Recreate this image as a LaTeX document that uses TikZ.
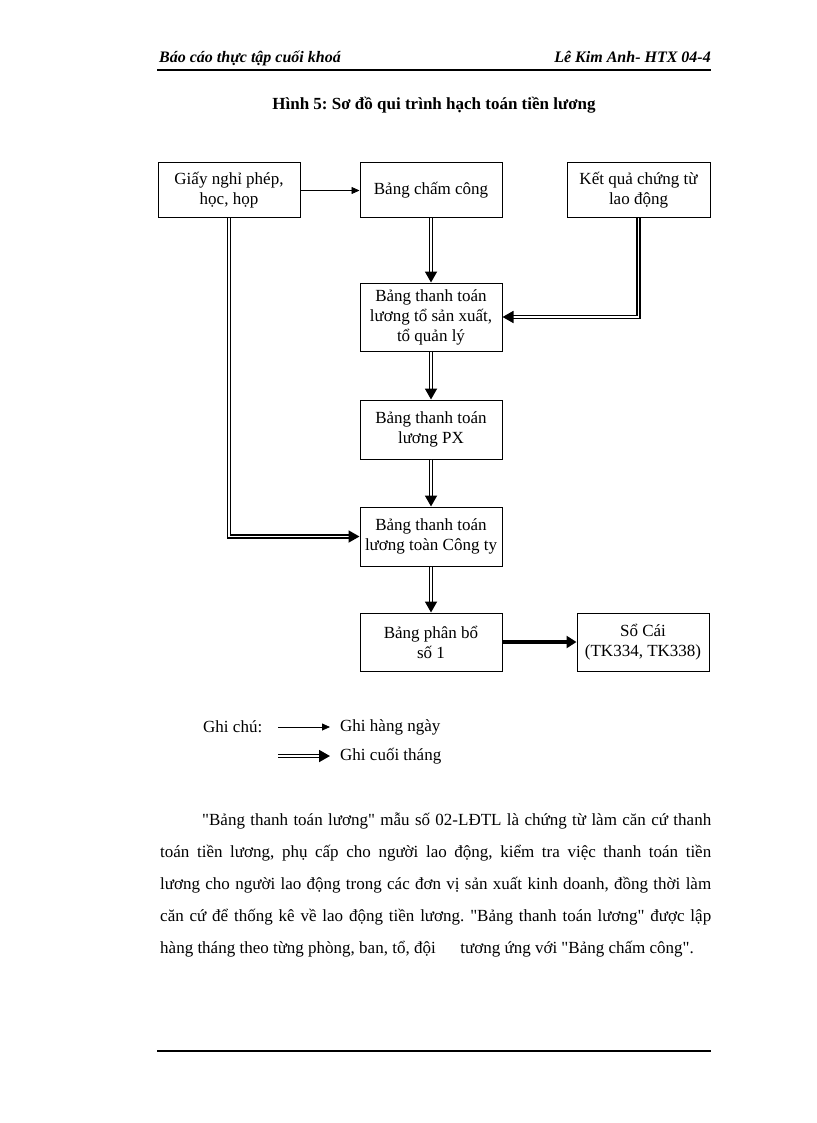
\documentclass[tikz,border=0pt]{standalone}
\usepackage{fontspec}
\setmainfont{Liberation Serif}[Ligatures=TeXOff]
\usetikzlibrary{arrows.meta}
\frenchspacing

\begin{document}
\begin{tikzpicture}[x=1pt,y=-1pt,
        box/.style={draw=black, line width=1pt, minimum width=142pt, minimum height=55pt, align=center, inner sep=2pt, font=\fontsize{17}{20}\selectfont},
        daily/.style={-{Triangle[length=8pt,width=7pt]}, line width=0.8pt},
        monthly/.style={double=white, double distance=1.2pt, line width=1.8pt, -{Triangle[length=11pt,width=12pt]}},
        heavy/.style={line width=4pt, -{Triangle[length=10pt,width=12pt]}},
        txt/.style={font=\fontsize{17}{20}\selectfont, inner sep=0pt}
        ]
            \useasboundingbox (0,0) rectangle (816,1123);

            % header
            \node[txt, anchor=base west, font=\fontsize{16}{18}\bfseries\itshape] (hleft) at (159,63) {Báo cáo thực tập cuối khoá};
            \node[txt, anchor=base east, font=\fontsize{16}{18}\bfseries\itshape] (hright) at (711,63) {Lê Kim Anh- HTX 04-4};
            \draw[line width=2.5pt] (157,70) -- (711,70);
            \node[txt, font=\fontsize{17}{20}\bfseries] (title) at (434,105) {Hình 5: Sơ đồ qui trình hạch toán tiền lương};

            % boxes
            \node[box] (giay) at (229,190.5) {Giấy nghỉ phép,\\học, họp};
            \node[box] (chamcong) at (431,190.5) {Bảng chấm công};
            \node[box, minimum width=143pt] (ketqua) at (638.5,190.5) {Kết quả chứng từ\\lao động};
            \node[box, minimum height=68pt] (totoan) at (431,317) {Bảng thanh toán\\lương tổ sản xuất,\\tổ quản lý};
            \node[box, minimum height=59pt] (px) at (431,429.5) {Bảng thanh toán\\lương PX};
            \node[box, minimum height=59pt] (congty) at (431,536.5) {Bảng thanh toán\\lương toàn Công ty};
            \node[box, minimum height=58pt] (phanbo) at (431,642) {Bảng phân bổ\\số 1};
            \node[box, minimum width=132pt, minimum height=58pt] (socai) at (643,642) {Sổ Cái\\(TK334, TK338)};

            % connectors
            \draw[daily] (giay) -- (chamcong);
            \draw[monthly] (chamcong) -- (totoan);
            \draw[monthly] (ketqua.south) |- (totoan.east);
            \draw[monthly] (totoan) -- (px);
            \draw[monthly] (px) -- (congty);
            \draw[monthly] (giay.south) |- (congty.west);
            \draw[monthly] (congty) -- (phanbo);
            \draw[heavy] (phanbo) -- (socai);

            % legend
            \node[txt, anchor=west] (ghichu) at (203,727) {Ghi chú:};
            \coordinate (d1) at (278,727);
            \coordinate (d2) at (330,727);
            \coordinate (m1) at (278,756);
            \coordinate (m2) at (330,756);
            \draw[daily] (d1) -- (d2);
            \draw[monthly] (m1) -- (m2);
            \node[txt, anchor=west] (hangngay) at (340,727) {Ghi hàng ngày};
            \node[txt, anchor=west] (cuoithang) at (340,756) {Ghi cuối tháng};

            % paragraph
            \node[anchor=north west, text width=551pt, align=justify, inner sep=0pt, font=\fontsize{17}{32}\selectfont] (doan) at (160,813) {\hspace*{42pt}"Bảng thanh toán lương" mẫu số 02-LĐTL là chứng từ làm căn cứ thanh\linebreak
            toán tiền lương, phụ cấp cho người lao động, kiểm tra việc thanh toán tiền\linebreak
            lương cho người lao động trong các đơn vị sản xuất kinh doanh, đồng thời làm\linebreak
            căn cứ để thống kê về lao động tiền lương. "Bảng thanh toán lương" được lập\linebreak
            hàng tháng theo từng phòng, ban, tổ, đội\hspace{1.2em} tương ứng với "Bảng chấm công".};

            \draw[line width=2pt] (157,1051) -- (711,1051);

        \end{tikzpicture}
\end{document}
